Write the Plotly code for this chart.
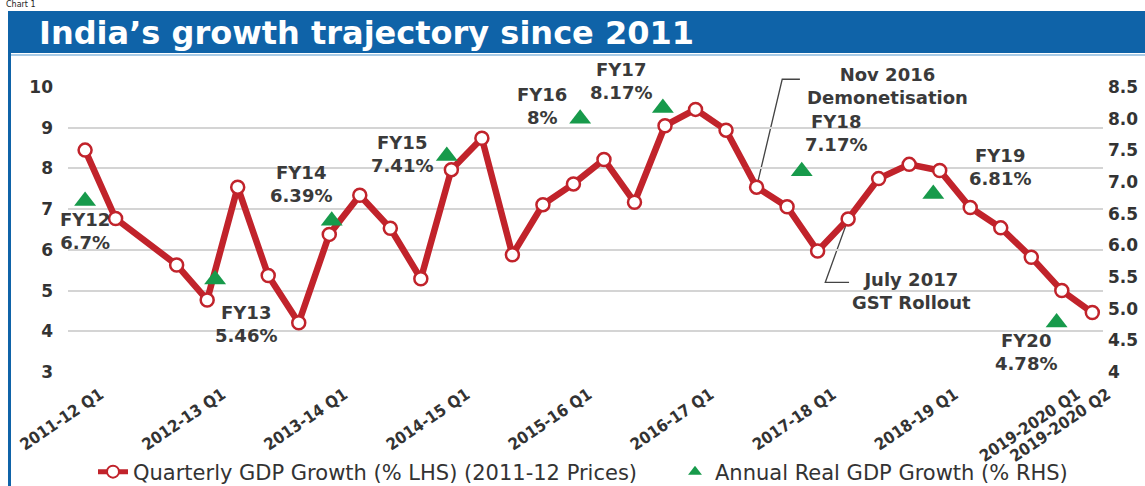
import plotly.graph_objects as go

# ---------------- data ----------------
years = ['2011-12', '2012-13', '2013-14', '2014-15', '2015-16',
         '2016-17', '2017-18', '2018-19', '2019-2020']
quarters = [f'{y} Q{q}' for y in years[:-1] for q in (1, 2, 3, 4)] + \
           [f'{years[-1]} Q1', f'{years[-1]} Q2']

quarterly_growth = [8.45, 6.77, None, 5.63, 4.77, 7.54, 5.37, 4.21,
                    6.38, 7.34, 6.53, 5.29, 7.97, 8.74, 5.88, 7.11,
                    7.62, 8.22, 7.17, 9.05, 9.45, 8.94, 7.54, 7.06,
                    5.97, 6.76, 7.75, 8.10, 7.95, 7.04, 6.54, 5.82,
                    5.00, 4.46]

fy_labels = ['FY12', 'FY13', 'FY14', 'FY15', 'FY16', 'FY17', 'FY18', 'FY19', 'FY20']
annual_growth = [6.7, 5.46, 6.39, 7.41, 8.0, 8.17, 7.17, 6.81, 4.78]
annual_pos = [0, 4.26, 8.08, 11.85, 16.22, 18.93, 23.48, 27.79, 31.83]  # quarter index

# label placement (quarter index, LHS value)
fy_label_x = [0, 5.27, 7.06, 10.38, 14.97, 17.56, 24.59, 29.96, 30.84]
fy_label_y = [6.46, 4.19, 7.62, 8.36, 9.53, 10.14, 8.86, 8.04, 3.50]

events = ['Nov 2016<br>Demonetisation', 'July 2017<br>GST Rollout']
event_quarter = [22, 25]
event_label_x = [26.29, 27.08]
event_label_y = [10.02, 5.00]
event_corner_x = [22.84, 24.25]
event_end_x = [23.42, 25.03]
event_line_y = [10.19, 5.20]

tick_quarters = [quarters[i] for i in range(0, 33, 4)] + [quarters[-1]]
left_ticks = [3, 4, 5, 6, 7, 8, 9, 10]
right_ticks = [4, 4.5, 5, 5.5, 6, 6.5, 7, 7.5, 8, 8.5]
right_ticktext = ['4'] + [f'{v:.1f}' for v in right_ticks[1:]]

# ---------------- layout helpers ----------------
W, H = 1145, 486
L, R, T, B = 68, 42, 87, 114
Y0, Y1 = 3, 10
def px2x(px): return (px - L) / (W - L - R)
def px2y(py): return (H - B - py) / (H - T - B)
def v2p(v): return (v - Y0) / (Y1 - Y0)

RED = '#c1232b'
GREEN = '#179a4b'
BLUE = '#0f63a8'
TXT = '#3a3a3a'

xidx = list(range(len(quarters)))

fig = go.Figure()
fig.add_trace(go.Scatter(
    x=xidx, y=quarterly_growth, mode='lines+markers', connectgaps=True,
    name='Quarterly GDP Growth (% LHS) (2011-12 Prices)',
    line=dict(color=RED, width=6.5),
    marker=dict(symbol='circle', size=13, color='white', line=dict(color=RED, width=2.5)),
    yaxis='y', cliponaxis=False, legend='legend'))
fig.add_trace(go.Scatter(
    x=annual_pos, y=annual_growth, mode='markers',
    name='Annual Real GDP Growth (% RHS)',
    marker=dict(symbol='triangle-up', size=19, color=GREEN),
    yaxis='y2', cliponaxis=False, legend='legend2'))

LBL = dict(family='DejaVu Sans', size=18, color=TXT, weight='bold')
annotations = []
for fy, v, lx, ly in zip(fy_labels, annual_growth, fy_label_x, fy_label_y):
    annotations.append(dict(x=lx, y=v2p(ly), xref='x', yref='paper', text=f'{fy}<br>{v:g}%',
                            showarrow=False, xanchor='center', yanchor='middle', font=LBL))
for t, lx, ly in zip(events, event_label_x, event_label_y):
    annotations.append(dict(x=lx, y=v2p(ly), xref='x', yref='paper', text=t,
                            showarrow=False, xanchor='center', yanchor='middle', font=LBL))
# title
annotations.append(dict(x=px2x(37), y=px2y(33), xref='paper', yref='paper',
                        text="India’s growth trajectory since 2011", showarrow=False,
                        xanchor='left', yanchor='middle',
                        font=dict(family='DejaVu Sans', size=32, color='white', weight='bold')))
annotations.append(dict(x=px2x(4), y=px2y(11), xref='paper', yref='paper',
                        text='Chart 1', showarrow=False, xanchor='left', yanchor='bottom',
                        font=dict(family='DejaVu Sans', size=8, color='#222')))

shapes = [
    dict(type='rect', xref='paper', yref='paper', x0=px2x(10), x1=px2x(1150),
         y0=px2y(53), y1=px2y(11), fillcolor=BLUE, line=dict(width=0), layer='below'),
    dict(type='line', xref='paper', yref='paper', x0=px2x(10), x1=px2x(1150),
         y0=px2y(55), y1=px2y(55), line=dict(color='#a9cbe6', width=2)),
    dict(type='line', xref='paper', yref='paper', x0=px2x(9.5), x1=px2x(9.5),
         y0=px2y(11), y1=px2y(490), line=dict(color=BLUE, width=3)),
]
for q, cx, ex, ly in zip(event_quarter, event_corner_x, event_end_x, event_line_y):
    shapes.append(dict(type='path', xref='x', yref='paper',
                       path=f'M {q},{v2p(quarterly_growth[q])} L {cx},{v2p(ly)} L {ex},{v2p(ly)}',
                       line=dict(color='#444', width=1.3), layer='below'))

LEGFONT = dict(family='DejaVu Sans', size=21, color='#333')
fig.update_layout(
    width=W, height=H,
    margin=dict(l=L, r=R, t=T, b=B, pad=0, autoexpand=False),
    paper_bgcolor='white', plot_bgcolor='white',
    showlegend=True,
    legend=dict(orientation='h', x=px2x(93), y=px2y(472), xanchor='left', yanchor='middle',
                font=LEGFONT, itemsizing='constant', bgcolor='rgba(0,0,0,0)'),
    legend2=dict(orientation='h', x=px2x(675), y=px2y(472), xanchor='left', yanchor='middle',
                 font=LEGFONT, itemsizing='constant', bgcolor='rgba(0,0,0,0)'),
    xaxis=dict(range=[-0.56, 33.35], tickmode='array', automargin=False,
               tickvals=[quarters.index(t) for t in tick_quarters], ticktext=tick_quarters,
               tickangle=-34, showgrid=False, zeroline=False, showline=False, ticks='',
               ticklabelstandoff=9, ticklabelshift=15, ticklabeloverflow='allow',
               tickfont=dict(family='DejaVu Sans Condensed', size=16.5, color='#333', weight='bold')),
    yaxis=dict(range=[Y0, Y1], tickvals=left_ticks, showgrid=True, gridcolor='#d4d4d4',
               gridwidth=1.5, zeroline=False, showline=False, ticks='', ticklabelstandoff=14,
               automargin=False,
               tickfont=dict(family='DejaVu Sans', size=17, color='#333', weight='bold')),
    yaxis2=dict(range=[4, 8.5], overlaying='y', side='right', tickvals=right_ticks,
                ticktext=right_ticktext, showgrid=False, zeroline=False, showline=False,
                ticks='', automargin=False, ticklabelstandoff=4, ticklabeloverflow='allow',
                tickfont=dict(family='DejaVu Sans', size=17, color='#333', weight='bold')),
    annotations=annotations,
    shapes=shapes,
)

fig.write_html('out.html', config={'displayModeBar': False},
               post_script="document.body.style.margin='0px';")
